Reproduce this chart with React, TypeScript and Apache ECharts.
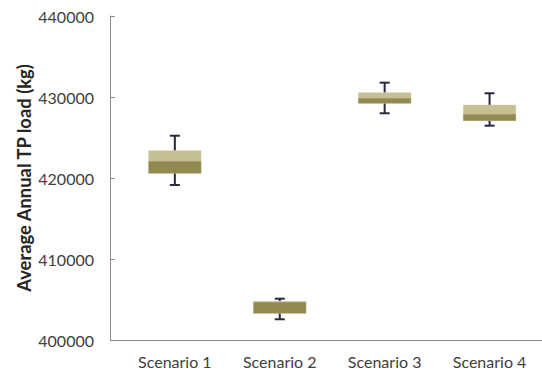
import React, { useEffect, useRef } from "react";
import * as echarts from "echarts";

const categories = ["Scenario 1", "Scenario 2", "Scenario 3", "Scenario 4"];
const mins = [419140, 402560, 427990, 426460];
const q1s = [420580, 403300, 429220, 427080];
const medians = [422060, 404650, 429840, 427860];
const q3s = [423370, 404770, 430530, 429010];
const maxs = [425220, 405100, 431770, 430460];
const yTicks = { min: 400000, max: 440000, interval: 10000 };

const FONT = "Lato, 'Liberation Sans', sans-serif";

export default function App() {
  const ref = useRef<HTMLDivElement>(null);
  useEffect(() => {
    if (!ref.current) return;
    const chart = echarts.init(ref.current, undefined, { renderer: "svg" });
    const data = categories.map((_, i) => [i, mins[i], q1s[i], medians[i], q3s[i], maxs[i]]);
    const gridLeft = 122.4;
    const gridWidth = 420.7;
    const axisY = 340;
    chart.setOption({
      animation: false,
      backgroundColor: "#ffffff",
      grid: { left: gridLeft, top: 16, width: gridWidth, height: axisY - 16 },
      xAxis: {
        type: "category",
        data: categories,
        boundaryGap: true,
        axisLine: { lineStyle: { color: "#8a8a8a", width: 1 } },
        axisTick: { show: false },
        axisLabel: { color: "#404040", fontSize: 16, fontFamily: FONT, margin: 13 },
        splitLine: { show: false },
      },
      yAxis: {
        type: "value",
        min: yTicks.min,
        max: yTicks.max,
        interval: yTicks.interval,
        offset: gridLeft - 110,
        name: "Average Annual TP load (kg)",
        nameLocation: "middle",
        nameGap: 77,
        nameMoveOverlap: false,
        nameTextStyle: { color: "#262626", fontSize: 18.4, fontWeight: "bold", fontFamily: FONT },
        axisLine: { show: true, lineStyle: { color: "#8a8a8a", width: 1 } },
        axisTick: { show: true, inside: true, length: 5, lineStyle: { color: "#8a8a8a" } },
        axisLabel: {
          color: "#404040",
          fontSize: 16,
          fontFamily: FONT,
          margin: 16,
          formatter: (v: number) => String(v),
        },
        splitLine: { show: false },
      },
      graphic: [
        {
          type: "line",
          shape: { x1: 110, y1: axisY + 0.5, x2: gridLeft + 1, y2: axisY + 0.5 },
          style: { stroke: "#8a8a8a", lineWidth: 1 },
          silent: true,
        },
      ],
      series: [
        {
          type: "custom",
          data,
          encode: { x: 0, y: [1, 2, 3, 4, 5] },
          renderItem: (params: any, api: any) => {
            const x = api.value(0);
            const pMin = api.coord([x, api.value(1)]);
            const pQ1 = api.coord([x, api.value(2)]);
            const pMed = api.coord([x, api.value(3)]);
            const pQ3 = api.coord([x, api.value(4)]);
            const pMax = api.coord([x, api.value(5)]);
            const bw = api.size([1, 0])[0] * 0.5;
            const cx = pMin[0];
            const cap = 5;
            const wStyle = { stroke: "#27283a", lineWidth: 2 };
            return {
              type: "group",
              children: [
                { type: "line", shape: { x1: cx, y1: pMax[1], x2: cx, y2: pQ3[1] }, style: wStyle },
                { type: "line", shape: { x1: cx - cap, y1: pMax[1], x2: cx + cap, y2: pMax[1] }, style: wStyle },
                { type: "line", shape: { x1: cx, y1: pMin[1], x2: cx, y2: pQ1[1] }, style: wStyle },
                { type: "line", shape: { x1: cx - cap, y1: pMin[1], x2: cx + cap, y2: pMin[1] }, style: wStyle },
                {
                  type: "rect",
                  shape: { x: cx - bw / 2, y: pQ3[1], width: bw, height: pMed[1] - pQ3[1] },
                  style: { fill: "#c6bf94", stroke: "#d4ceaa", lineWidth: 0.5 },
                },
                {
                  type: "rect",
                  shape: { x: cx - bw / 2, y: pMed[1], width: bw, height: pQ1[1] - pMed[1] },
                  style: { fill: "#928950", stroke: "#a39b66", lineWidth: 0.5 },
                },
              ],
            };
          },
        },
      ],
    });
    return () => chart.dispose();
  }, []);
  return (
    <div
      ref={ref}
      style={{ position: "fixed", left: 0, top: 0, width: 542, height: 373 }}
    />
  );
}
